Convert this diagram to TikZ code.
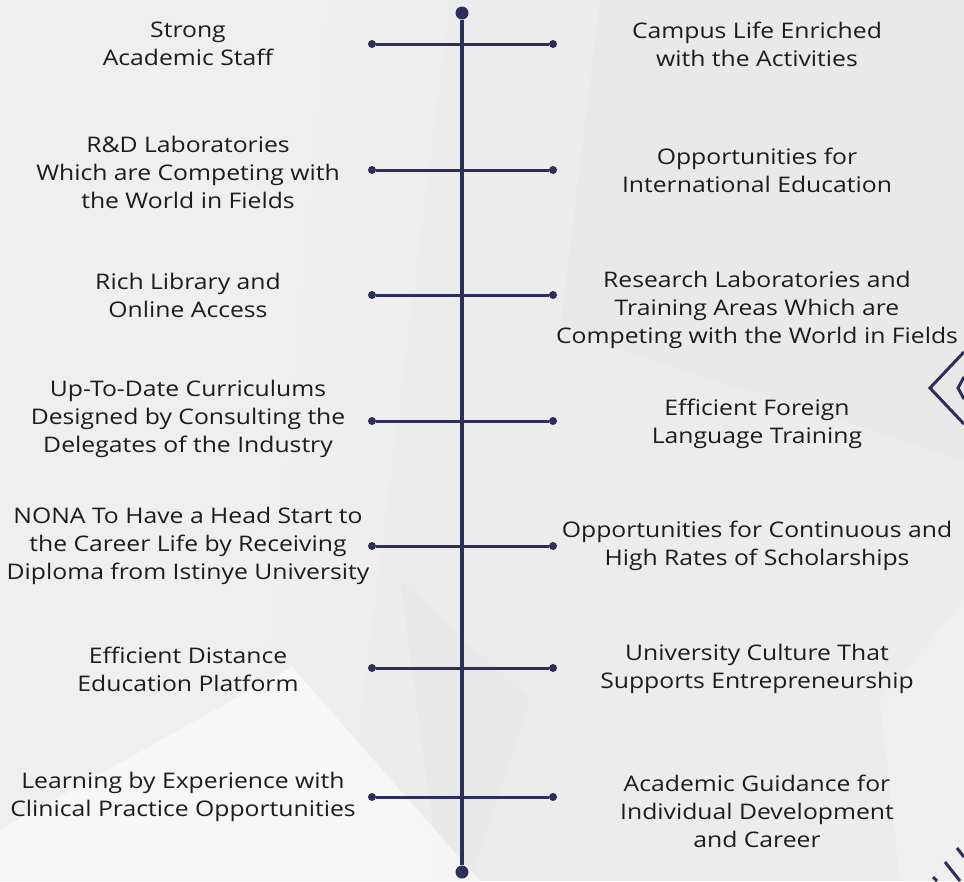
\documentclass[tikz,border=0pt]{standalone}
\usepackage{fontspec}
\setmainfont{Open Sans}[FakeStretch=1.15]
\definecolor{navy}{RGB}{45,46,92}
\definecolor{bgbase}{RGB}{236,236,236}
\definecolor{txt}{RGB}{28,28,28}
\begin{document}
\begin{tikzpicture}[x=1pt,y=-1pt]
\tikzset{
  spine/.style={draw=navy, line width=4pt},
  branch/.style={draw=navy, line width=3pt},
  enddot/.style={circle, fill=navy, inner sep=0pt, minimum size=8pt},
  bigdot/.style={circle, fill=navy, inner sep=0pt, minimum size=13pt},
  lbl/.style={align=center, text=txt, inner sep=0pt, font=\fontsize{21.5}{28}\selectfont},
  shard/.style={draw=none},
  deco/.style={draw=navy, line width=3pt},
}
% background
\fill[bgbase] (0,0) rectangle (964,881);
\useasboundingbox (0,0) rectangle (964,881);
\fill[shard, white, opacity=0.2] (0,0) -- (330,0) -- (250,881) -- (0,881) -- cycle;
\fill[shard, white, opacity=0.15] (330,0) -- (450,0) -- (340,881) -- (250,881) -- cycle;
\fill[shard, black, opacity=0.01] (600,0) -- (964,0) -- (964,460) -- (560,330) -- cycle;
\fill[shard, black, opacity=0.012] (400,580) -- (530,700) -- (470,881) -- (440,881) -- cycle;
\fill[shard, white, opacity=0.55] (292,667) -- (480,881) -- (0,881) -- (0,830) -- cycle;
\fill[shard, white, opacity=0.2] (880,700) -- (964,600) -- (964,881) -- (900,881) -- cycle;
% right edge decorations
\draw[deco] (964,352) -- (930,388) -- (964,424);
\draw[deco] (964,377) -- (958,388) -- (964,399);
\draw[deco] (957,848) -- (964,857);
\draw[deco] (945,862) -- (960,881);
\draw[deco] (933,877) -- (937,881);

% spine
\node[bigdot] (top) at (462,13) {};
\node[bigdot] (bot) at (462,872) {};
\draw[spine] (top) -- (bot);

% branches
\foreach \i/\y in {1/44,2/170,3/295,4/421,5/546,6/668,7/797}{
  \node[enddot] (l\i) at (372,\y) {};
  \node[enddot] (r\i) at (553,\y) {};
  \draw[branch] (l\i) -- (r\i);
}

% left labels
\node[lbl] (tl1) at (188,44) {Strong\\Academic Staff};
\node[lbl] (tl2) at (188,172) {R\&D Laboratories\\Which are Competing with\\the World in Fields};
\node[lbl] (tl3) at (188,295) {Rich Library and\\Online Access};
\node[lbl] (tl4) at (188,419) {Up-To-Date Curriculums\\Designed by Consulting the\\Delegates of the Industry};
\node[lbl] (tl5) at (188,546) {NONA To Have a Head Start to\\the Career Life by Receiving\\Diploma from Istinye University};
\node[lbl] (tl6) at (188,669) {Efficient Distance\\Education Platform};
\node[lbl] (tl7) at (183,797) {Learning by Experience with\\Clinical Practice Opportunities};

% right labels
\node[lbl] (tr1) at (757,44) {Campus Life Enriched\\with the Activities};
\node[lbl] (tr2) at (757,170) {Opportunities for\\International Education};
\node[lbl] (tr3) at (757,310) {Research Laboratories and\\Training Areas Which are\\Competing with the World in Fields};
\node[lbl] (tr4) at (757,424) {Efficient Foreign\\Language Training};
\node[lbl] (tr5) at (757,546) {Opportunities for Continuous and\\High Rates of Scholarships};
\node[lbl] (tr6) at (757,669) {University Culture That\\Supports Entrepreneurship};
\node[lbl] (tr7) at (757,811) {Academic Guidance for\\Individual Development\\and Career};
\end{tikzpicture}
\end{document}
